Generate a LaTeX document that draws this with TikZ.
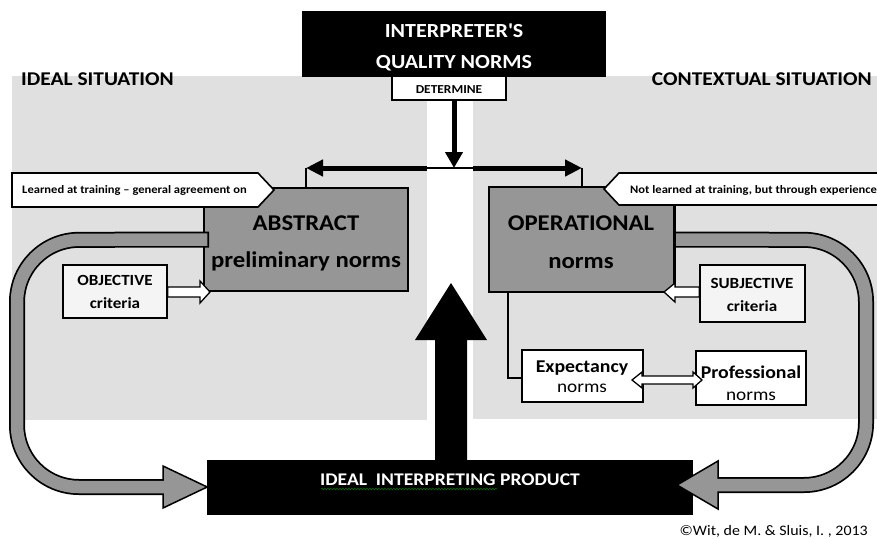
\documentclass[tikz,border=0pt]{standalone}
\usepackage{fontspec}
\setmainfont{Carlito}[FakeStretch=1.1]
\usetikzlibrary{arrows.meta,decorations.pathmorphing}
\definecolor{panelgray}{HTML}{E0E0E0}
\definecolor{boxgray}{HTML}{969696}
\definecolor{arrowgray}{HTML}{969696}
\definecolor{critfill}{HTML}{F4F4F4}
\newcommand{\fsz}[1]{\fontsize{#1}{#1}\selectfont}
\begin{document}
\begin{tikzpicture}[x=1pt,y=-1pt,
  boxnode/.style={draw=black,line width=1.6pt,inner sep=0pt},
  lbl/.style={inner sep=0pt,anchor=base},
  hollow/.style={fill=white,draw=black,line width=1.3pt,line join=miter},
  tagshape/.style={fill=white,draw=black,line width=1.6pt,line join=miter},
]
\useasboundingbox (0,0) rectangle (877,538);

% panels
\fill[panelgray] (12,76) rectangle (427,420);
\fill[panelgray] (473,76) rectangle (877,419);
\node[lbl,anchor=base west,font=\bfseries\fsz{19.5}] (ideal) at (21,85) {IDEAL SITUATION};
\node[lbl,anchor=base east,font=\bfseries\fsz{19.5}] (context) at (872,85) {CONTEXTUAL SITUATION};

% big up arrow
\fill[black] (435,462) -- (435,340) -- (415,340) -- (451,283) -- (487,340) -- (467,340) -- (467,462) -- cycle;

% top box
\node[boxnode,fill=black,minimum width=302pt,minimum height=64pt] (iqn) at (454,44) {};
\node[lbl,text=white,font=\bfseries\fsz{20}] (iqn1) at (454,37) {INTERPRETER\textquotesingle S};
\node[lbl,text=white,font=\bfseries\fsz{20}] (iqn2) at (454,68) {QUALITY NORMS};
\node[boxnode,fill=white,minimum width=114pt,minimum height=24pt] (det) at (449,88) {};
\node[lbl,font=\bfseries\fsz{12.2}] (dett) at (449,93) {DETERMINE};

% determine arrows
\coordinate (junc) at (454,168);
\coordinate (lt) at (306,168);
\coordinate (rt) at (582,168);
\coordinate (gl) at (427,168);
\coordinate (gr) at (473,168);
\draw[line width=5pt,-{Triangle[length=16pt,width=17pt]}] (det.south -| junc) -- (junc);
\draw[line width=1.3pt] (gl) -- (gr);

% norm boxes
\node[boxnode,fill=boxgray,minimum width=204pt,minimum height=103pt] (abs) at (306,239.5) {};
\node[boxnode,fill=boxgray,minimum width=185pt,minimum height=105pt] (op) at (581.5,239.5) {};
\draw[line width=5pt,-{Triangle[length=17pt,width=16pt]}] (gl) -- (lt);
\draw[line width=5pt,-{Triangle[length=17pt,width=16pt]}] (gr) -- (rt);
\draw[line width=1.3pt] (lt) -- (lt |- abs.north);
\draw[line width=1.3pt] (rt) -- (rt |- op.north);
\node[lbl,font=\bfseries\fsz{22.5}] (abs1) at (306,230) {ABSTRACT};
\node[lbl,font=\bfseries\fsz{22.5}] (abs2) at (306,267) {preliminary norms};
\node[lbl,font=\bfseries\fsz{22.5}] (op1) at (581,230) {OPERATIONAL};
\node[lbl,font=\bfseries\fsz{22.5}] (op2) at (581,268) {norms};

% product box
\node[boxnode,fill=black,minimum width=484pt,minimum height=53pt] (prod) at (450,487.5) {};
\node[lbl,text=white,font=\bfseries\fsz{17.8}] (prodt) at (450,485) {IDEAL\ \ INTERPRETING PRODUCT};
\draw[green!45!black,line width=0.6pt,decorate,decoration={snake,amplitude=0.8pt,segment length=3pt}] (321,489) -- (497,489);

% left curved arrow
\coordinate (lhead) at (163,487);
\draw[line width=16pt,rounded corners=62pt] ([xshift=6pt]abs.west) -- (17,240) -- (17,487) -- (lhead);
\filldraw[fill=arrowgray,draw=black,line width=1.5pt,line join=miter] (163,466) -- (prod.west |- lhead) -- (163,508) -- cycle;
\draw[arrowgray,line width=12.5pt,rounded corners=62pt,shorten <=1.8pt,shorten >=-2.5pt] ([xshift=6pt]abs.west) -- (17,240) -- (17,487) -- (lhead);

% right curved arrow
\coordinate (rhead) at (718,485);
\draw[line width=16pt,rounded corners=62pt] (op.east) -- (866,240) -- (866,485) -- (rhead);
\filldraw[fill=arrowgray,draw=black,line width=1.5pt,line join=miter] (718,461) -- (677,485) -- (718,509) -- cycle;
\draw[arrowgray,line width=12.5pt,rounded corners=62pt,shorten >=-2.5pt] (op.east) -- (866,240) -- (866,485) -- (rhead);
\draw[line width=1.6pt] (op.north east) -- (op.south east);

% tags
\draw[tagshape] (12,173) -- (258,173) -- (274,190) -- (258,207) -- (12,207) -- cycle;
\node[lbl,anchor=base west,font=\bfseries\fsz{11.4}] (tagl) at (22,193) {Learned at training -- general agreement on};
\draw[tagshape] (880,173) -- (619,173) -- (604,189) -- (619,205) -- (880,205);
\node[lbl,anchor=base west,font=\bfseries\fsz{11.4}] (tagr) at (630,193) {Not learned at training, but through experience};

% criteria
\node[boxnode,fill=critfill,minimum width=104pt,minimum height=53pt] (obj) at (115,291.5) {};
\node[lbl,font=\bfseries\fsz{15.5}] (obj1) at (115,285) {OBJECTIVE};
\node[lbl,font=\bfseries\fsz{15.5}] (obj2) at (115,308) {criteria};
\filldraw[hollow] (obj.east |- 0,287) -- (200,287) -- (200,281) -- (210,292) -- (200,303) -- (200,297) -- (obj.east |- 0,297) -- cycle;

\node[boxnode,fill=critfill,minimum width=105pt,minimum height=57pt] (subj) at (752.5,293.5) {};
\node[lbl,font=\bfseries\fsz{15.5}] (subj1) at (752,288) {SUBJECTIVE};
\node[lbl,font=\bfseries\fsz{15.5}] (subj2) at (752,311) {criteria};
\filldraw[hollow] (subj.west |- 0,287) -- (675,287) -- (675,283) -- (664,292) -- (675,302) -- (675,297) -- (subj.west |- 0,297) -- cycle;

% expectancy / professional
\node[boxnode,fill=white,minimum width=121pt,minimum height=52pt] (exp) at (582.5,376) {};
\node[lbl,font=\bfseries\fsz{18}] (exp1) at (582,372) {Expectancy};
\node[lbl,font=\fsz{17.5}] (exp2) at (582,392) {norms};
\node[boxnode,fill=white,minimum width=110pt,minimum height=54pt] (prof) at (751,378) {};
\node[lbl,font=\bfseries\fsz{18}] (prof1) at (751,378) {Professional};
\node[lbl,font=\fsz{17.5}] (prof2) at (751,400) {norms};
\coordinate (eb) at (508,378);
\draw[line width=2pt,line join=miter] (op.south -| eb) -- (eb) -- (exp.west |- eb);
\filldraw[hollow] (632,380) -- (642,372) -- (642,376) -- (693,376) -- (693,372) -- (702,380) -- (693,388) -- (693,384) -- (642,384) -- (642,388) -- cycle;

% copyright
\node[lbl,anchor=base east,font=\fsz{14.5}] (copy) at (868,535) {©Wit, de M. \& Sluis, I. , 2013};
\end{tikzpicture}
\end{document}
